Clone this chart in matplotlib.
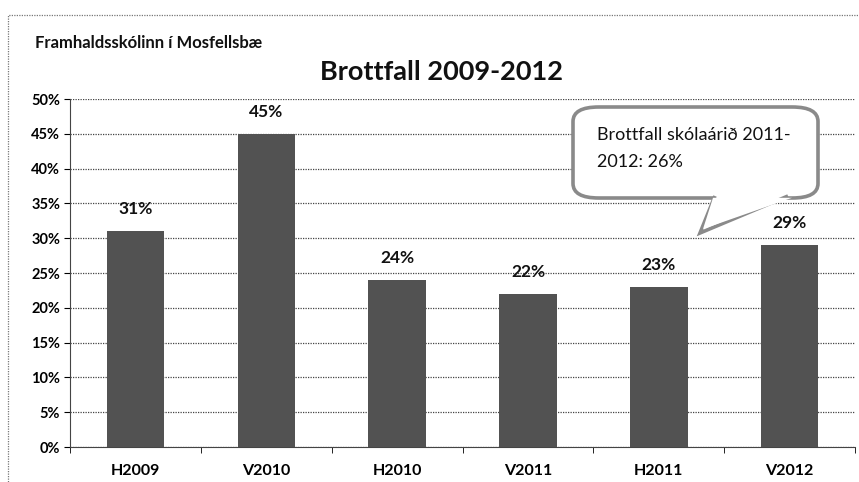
import numpy as np
import matplotlib.pyplot as plt
from matplotlib.patches import FancyBboxPatch, Polygon, Rectangle

# data
categories = ['H2009', 'V2010', 'H2010', 'V2011', 'H2011', 'V2012']
values = [31, 45, 24, 22, 23, 29]
yticks = [0, 5, 10, 15, 20, 25, 30, 35, 40, 45, 50]

plt.rcParams['font.family'] = ['Lato', 'DejaVu Sans']

fig = plt.figure(figsize=(8.59, 4.82), dpi=100)
ax = fig.add_axes([0.0815, 0.0726, 0.914, 0.722])

x = np.arange(len(categories))
bars = ax.bar(x, values, width=0.44, color='#525252', zorder=3)

for xi, v in zip(x, values):
    ax.text(xi, v + 2.0, f'{v}%', ha='center', va='bottom',
            fontsize=12.5, fontweight='bold', color='#111111')

ax.set_xlim(-0.5, len(categories) - 0.5)
ax.set_ylim(0, 50)
ax.set_yticks(yticks)
ax.set_yticklabels([f'{t}%' for t in yticks], fontsize=10.5, fontweight='bold')
ax.set_xticks(x)
ax.set_xticklabels(categories, fontsize=11.5, fontweight='bold')
ax.set_xticks(np.arange(-0.5, len(categories), 1), minor=True)
ax.tick_params(axis='x', which='major', length=0, pad=12)
ax.tick_params(axis='x', which='minor', length=4, direction='out')
ax.tick_params(axis='y', length=4, direction='out', pad=3)
ax.yaxis.grid(True, linestyle=(0, (1, 1)), color='#444444', linewidth=0.9, zorder=0)
for s in ['top', 'right']:
    ax.spines[s].set_visible(False)
ax.spines['left'].set_color('#444444')
ax.spines['bottom'].set_color('#444444')

# titles
fig.text(0.041, 0.91, 'Framhaldsskólinn í Mosfellsbæ', fontsize=12, fontweight='bold',
         ha='left', va='center', color='#111111')
fig.text(0.514, 0.85, 'Brottfall 2009-2012', fontsize=19.5, fontweight='bold',
         ha='center', va='center', color='#111111')

# outer chart border
fig.patches.append(Rectangle((0.0093, -0.1), 1.2, 1.069, transform=fig.transFigure,
                             fill=False, edgecolor='#777777', linewidth=0.9, linestyle=(0, (1, 1))))

# callout
W, H = 859, 482
bx0, by0, bx1, by1 = 573, 107, 818, 198
box = FancyBboxPatch((bx0 / W, 1 - by1 / H), (bx1 - bx0) / W, (by1 - by0) / H,
                     boxstyle='round,pad=0,rounding_size=0.03', transform=fig.transFigure,
                     facecolor='white', edgecolor='#8a8a8a', linewidth=2.6, zorder=5)
fig.patches.append(box)
tail = Polygon([(715 / W, 1 - 196 / H), (700 / W, 1 - 233 / H), (788 / W, 1 - 196 / H)],
               closed=False, transform=fig.transFigure, facecolor='white',
               edgecolor='#8a8a8a', linewidth=2.6, zorder=6)
fig.patches.append(tail)
fig.patches.append(Polygon([(713 / W, 1 - 197.8 / H), (792 / W, 1 - 197.8 / H),
                            (703 / W, 1 - 229 / H)], closed=True, transform=fig.transFigure,
                           facecolor='white', edgecolor='none', zorder=7))
fig.text(597 / W, 1 - 135 / H, 'Brottfall skólaárið 2011-', fontsize=13,
         ha='left', va='center', color='#111111', zorder=8)
fig.text(597 / W, 1 - 162 / H, '2012: 26%', fontsize=13,
         ha='left', va='center', color='#111111', zorder=8)

fig.savefig('out.png', dpi=100)
